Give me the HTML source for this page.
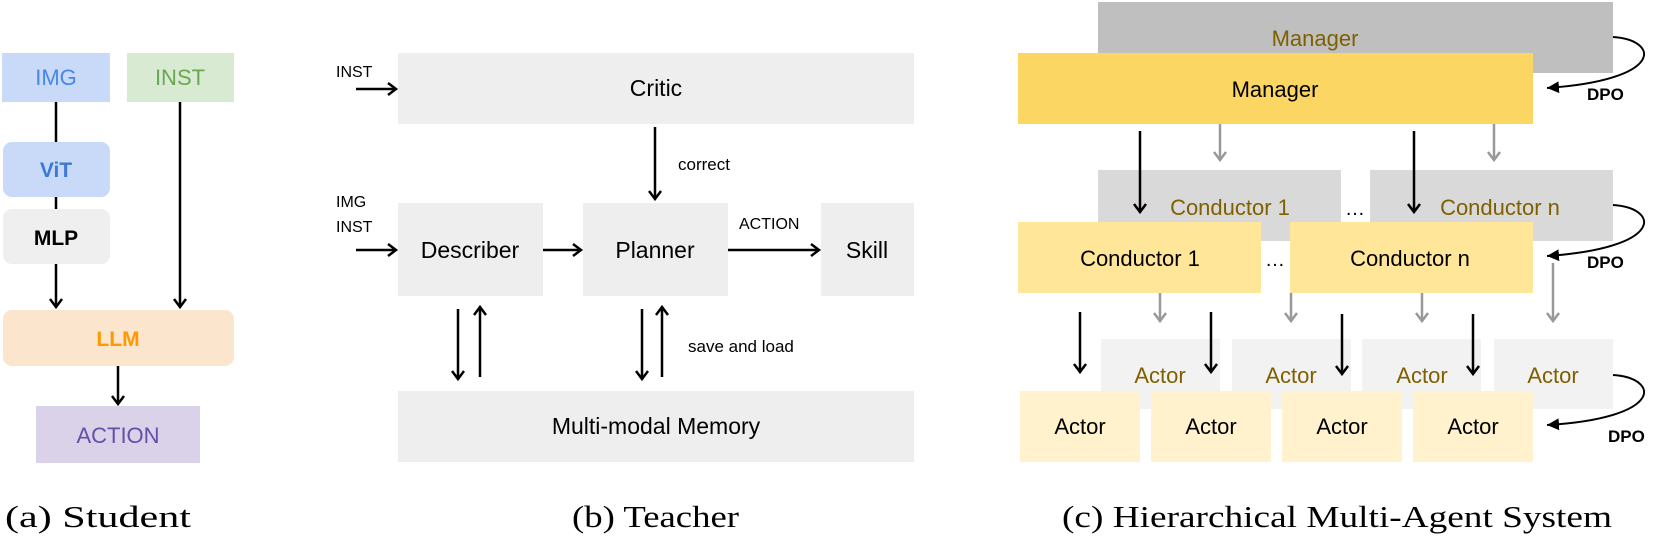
<!DOCTYPE html>
<html><head><meta charset="utf-8"><style>
html,body{margin:0;padding:0;background:#fff;}
svg{display:block;}
text{font-family:"Liberation Sans",sans-serif;}
.cap{font-family:"Liberation Serif",serif;font-size:31px;fill:#000;}
</style></head><body>
<svg width="1660" height="536" viewBox="0 0 1660 536" xmlns="http://www.w3.org/2000/svg">
<defs>
<marker id="ah" markerUnits="userSpaceOnUse" markerWidth="16" markerHeight="16" refX="10" refY="7" orient="auto">
<path d="M2,1 L10,7 L2,13" fill="none" stroke="#000" stroke-width="2.5"/>
</marker>
<marker id="ag" markerUnits="userSpaceOnUse" markerWidth="16" markerHeight="16" refX="10" refY="7" orient="auto">
<path d="M2,1 L10,7 L2,13" fill="none" stroke="#999" stroke-width="2.5"/>
</marker>
<marker id="af" markerUnits="userSpaceOnUse" markerWidth="16" markerHeight="16" refX="12" refY="6" orient="auto">
<path d="M0,0 L12,6 L0,12 Z" fill="#000"/>
</marker>
</defs>

<!-- (a) Student -->
<rect x="2" y="53" width="108" height="49" fill="#c9daf8"/>
<text x="56" y="85" font-size="22" fill="#4a86e8" text-anchor="middle">IMG</text>
<rect x="127" y="53" width="107" height="49" fill="#d9ead3"/>
<text x="180" y="85" font-size="22" fill="#6aa84f" text-anchor="middle">INST</text>
<rect x="3" y="142" width="107" height="55" rx="9" fill="#c9daf8"/>
<text x="56" y="177" font-size="21" font-weight="bold" fill="#3c78d8" text-anchor="middle">ViT</text>
<rect x="3" y="209" width="107" height="55" rx="9" fill="#efefef"/>
<text x="56" y="245" font-size="21" font-weight="bold" fill="#000" text-anchor="middle">MLP</text>
<rect x="3" y="310" width="231" height="56" rx="9" fill="#fce5cd"/>
<text x="118" y="346" font-size="21" font-weight="bold" fill="#ff9900" text-anchor="middle">LLM</text>
<rect x="36" y="406" width="164" height="57" fill="#d9d2e9"/>
<text x="118" y="443" font-size="22" fill="#674ea7" text-anchor="middle">ACTION</text>
<g stroke="#000" stroke-width="2.5" fill="none">
<line x1="56" y1="102" x2="56" y2="142"/>
<line x1="56" y1="197" x2="56" y2="209"/>
<line x1="56" y1="264" x2="56" y2="307" marker-end="url(#ah)"/>
<line x1="180" y1="102" x2="180" y2="307" marker-end="url(#ah)"/>
<line x1="118" y1="366" x2="118" y2="404" marker-end="url(#ah)"/>
</g>

<!-- (b) Teacher -->
<rect x="398" y="53" width="516" height="71" fill="#eeeeee"/>
<text x="656" y="96" font-size="23" text-anchor="middle">Critic</text>
<rect x="398" y="203" width="145" height="93" fill="#eeeeee"/>
<text x="470" y="258" font-size="23" text-anchor="middle">Describer</text>
<rect x="583" y="203" width="145" height="93" fill="#eeeeee"/>
<text x="655" y="258" font-size="23" text-anchor="middle">Planner</text>
<rect x="821" y="203" width="93" height="93" fill="#eeeeee"/>
<text x="867" y="258" font-size="23" text-anchor="middle">Skill</text>
<rect x="398" y="391" width="516" height="71" fill="#eeeeee"/>
<text x="656" y="434" font-size="23" text-anchor="middle">Multi-modal Memory</text>
<text x="336" y="77" font-size="16">INST</text>
<text x="336" y="207" font-size="16">IMG</text>
<text x="336" y="232" font-size="16">INST</text>
<text x="678" y="170" font-size="17">correct</text>
<text x="739" y="229" font-size="16">ACTION</text>
<text x="688" y="352" font-size="17">save and load</text>
<g stroke="#000" stroke-width="2.5" fill="none">
<line x1="356" y1="89" x2="396" y2="89" marker-end="url(#ah)"/>
<line x1="356" y1="250" x2="396" y2="250" marker-end="url(#ah)"/>
<line x1="543" y1="250" x2="581" y2="250" marker-end="url(#ah)"/>
<line x1="728" y1="250" x2="819" y2="250" marker-end="url(#ah)"/>
<line x1="655" y1="127" x2="655" y2="199" marker-end="url(#ah)"/>
<line x1="458" y1="309" x2="458" y2="379" marker-end="url(#ah)"/>
<line x1="480" y1="377" x2="480" y2="307" marker-end="url(#ah)"/>
<line x1="642" y1="309" x2="642" y2="379" marker-end="url(#ah)"/>
<line x1="662" y1="377" x2="662" y2="307" marker-end="url(#ah)"/>
</g>

<!-- (c) Hierarchical -->
<rect x="1098" y="2" width="515" height="71" fill="#bfbfbf"/>
<text x="1315" y="46" font-size="22" fill="#7f6000" text-anchor="middle">Manager</text>
<rect x="1018" y="53" width="515" height="71" fill="#fcd662"/>
<text x="1275" y="97" font-size="22" fill="#000" text-anchor="middle">Manager</text>

<rect x="1098" y="170" width="243" height="71" fill="#d9d9d9"/>
<text x="1230" y="215" font-size="22" fill="#7f6000" text-anchor="middle">Conductor 1</text>
<rect x="1370" y="170" width="243" height="71" fill="#d9d9d9"/>
<text x="1500" y="215" font-size="22" fill="#7f6000" text-anchor="middle">Conductor n</text>
<text x="1355" y="215" font-size="20" fill="#000" text-anchor="middle">…</text>
<rect x="1018" y="222" width="243" height="71" fill="#ffe699"/>
<text x="1140" y="266" font-size="22" text-anchor="middle">Conductor 1</text>
<rect x="1290" y="222" width="243" height="71" fill="#ffe699"/>
<text x="1410" y="266" font-size="22" text-anchor="middle">Conductor n</text>
<text x="1275" y="266" font-size="20" text-anchor="middle">…</text>

<rect x="1101" y="339" width="119" height="70" fill="#f2f2f2"/>
<rect x="1232" y="339" width="119" height="70" fill="#f2f2f2"/>
<rect x="1362" y="339" width="119" height="70" fill="#f2f2f2"/>
<rect x="1494" y="339" width="119" height="70" fill="#f2f2f2"/>
<g font-size="22" fill="#7f6000" text-anchor="middle">
<text x="1160" y="383">Actor</text><text x="1291" y="383">Actor</text>
<text x="1422" y="383">Actor</text><text x="1553" y="383">Actor</text>
</g>
<rect x="1020" y="391" width="120" height="71" fill="#fff2cc"/>
<rect x="1151" y="391" width="120" height="71" fill="#fff2cc"/>
<rect x="1282" y="391" width="120" height="71" fill="#fff2cc"/>
<rect x="1413" y="391" width="120" height="71" fill="#fff2cc"/>
<g font-size="22" fill="#000" text-anchor="middle">
<text x="1080" y="434">Actor</text><text x="1211" y="434">Actor</text>
<text x="1342" y="434">Actor</text><text x="1473" y="434">Actor</text>
</g>

<g stroke="#999" stroke-width="2.5" fill="none">
<line x1="1220" y1="124" x2="1220" y2="160" marker-end="url(#ag)"/>
<line x1="1494" y1="124" x2="1494" y2="160" marker-end="url(#ag)"/>
<line x1="1160" y1="293" x2="1160" y2="321" marker-end="url(#ag)"/>
<line x1="1291" y1="293" x2="1291" y2="321" marker-end="url(#ag)"/>
<line x1="1422" y1="293" x2="1422" y2="321" marker-end="url(#ag)"/>
<line x1="1553" y1="263" x2="1553" y2="321" marker-end="url(#ag)"/>
</g>
<g stroke="#000" stroke-width="2.5" fill="none">
<line x1="1140" y1="131" x2="1140" y2="212" marker-end="url(#ah)"/>
<line x1="1414" y1="131" x2="1414" y2="212" marker-end="url(#ah)"/>
<line x1="1080" y1="312" x2="1080" y2="372" marker-end="url(#ah)"/>
<line x1="1211" y1="312" x2="1211" y2="372" marker-end="url(#ah)"/>
<line x1="1342" y1="314" x2="1342" y2="374" marker-end="url(#ah)"/>
<line x1="1473" y1="314" x2="1473" y2="374" marker-end="url(#ah)"/>
</g>
<g stroke="#000" stroke-width="2" fill="none">
<path d="M1613,37 C1660,40 1665,80 1547,88" marker-end="url(#af)"/>
<path d="M1613,205 C1660,208 1665,248 1547,256" marker-end="url(#af)"/>
<path d="M1613,375 C1660,378 1665,418 1547,425" marker-end="url(#af)"/>
</g>
<g font-size="17" font-weight="bold" fill="#000">
<text x="1587" y="100">DPO</text>
<text x="1587" y="268">DPO</text>
<text x="1608" y="442">DPO</text>
</g>

<!-- captions -->
<text class="cap" x="5" y="527" textLength="186" lengthAdjust="spacingAndGlyphs">(a) Student</text>
<text class="cap" x="572" y="527" textLength="167" lengthAdjust="spacingAndGlyphs">(b) Teacher</text>
<text class="cap" x="1062" y="527" textLength="550" lengthAdjust="spacingAndGlyphs">(c) Hierarchical Multi-Agent System</text>
</svg>
</body></html>
